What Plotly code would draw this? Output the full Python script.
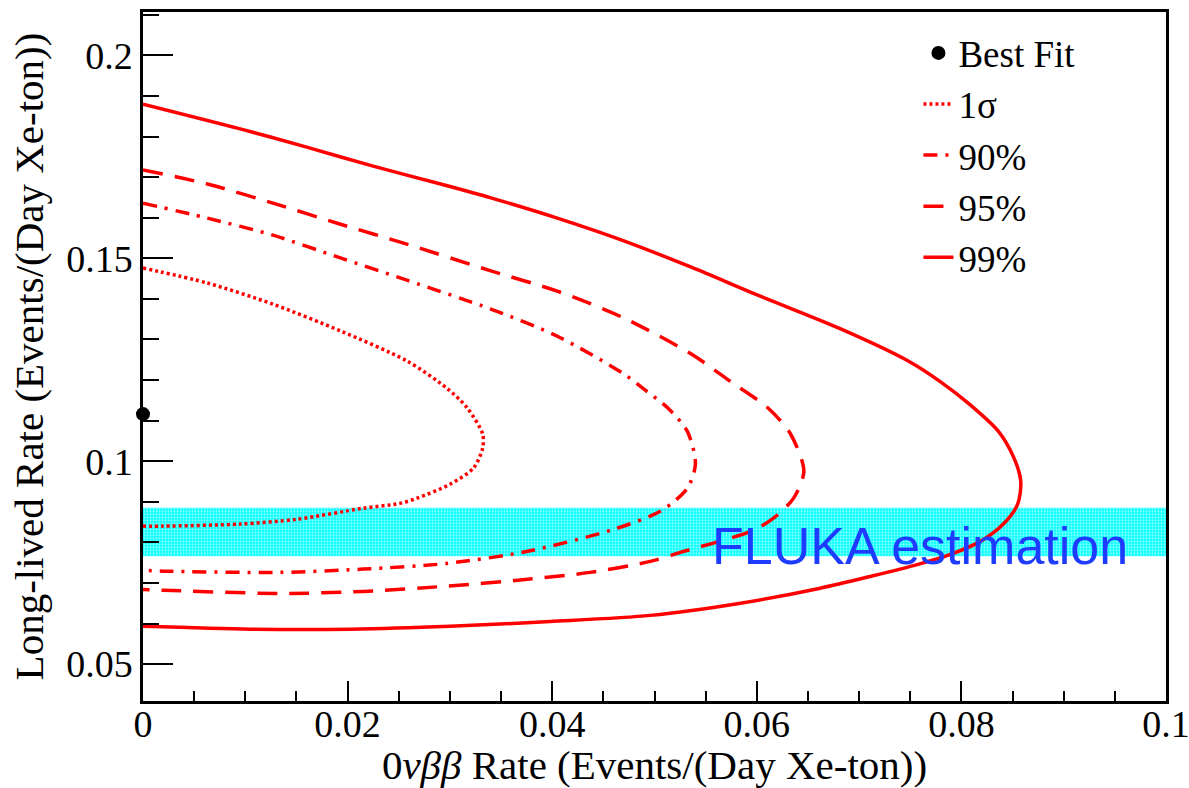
import plotly.graph_objects as go

# ---- data ----
best_fit_x = [0.0]
best_fit_y = [0.1116]

sig1_x = [0.0, 0.0063, 0.0127, 0.0193, 0.0258, 0.0297, 0.0317, 0.0332, 0.0332, 0.0323, 0.0300, 0.0268,
          0.0251, 0.0215, 0.0151, 0.0095, 0.0020, 0.0]
sig1_y = [0.1476, 0.1439, 0.1387, 0.1321, 0.1247, 0.1180, 0.1131, 0.1067, 0.1032, 0.0983, 0.0943, 0.0909,
          0.0896, 0.0884, 0.0857, 0.0845, 0.0840, 0.0840]

cl90_x = [0.0, 0.0063, 0.0127, 0.0193, 0.0258, 0.0340, 0.0405, 0.0470, 0.0491, 0.0513, 0.0532, 0.0540,
          0.0532, 0.0506, 0.0460, 0.0376, 0.0297, 0.0215, 0.0134, 0.0020, 0.0]
cl90_y = [0.1636, 0.1599, 0.1557, 0.1501, 0.1446, 0.1375, 0.1308, 0.1215, 0.1175, 0.1131, 0.1074, 0.0993,
          0.0933, 0.0877, 0.0832, 0.0778, 0.0748, 0.0734, 0.0726, 0.0729, 0.0731]

cl95_x = [0.0, 0.0063, 0.0127, 0.0193, 0.0258, 0.0340, 0.0405, 0.0470, 0.0536, 0.0574, 0.0611, 0.0633,
          0.0646, 0.0636, 0.0616, 0.0594, 0.0529, 0.0496, 0.0437, 0.0376, 0.0297, 0.0215, 0.0134, 0.0020, 0.0]
cl95_y = [0.1718, 0.1683, 0.1636, 0.1584, 0.1535, 0.1469, 0.1419, 0.1353, 0.1264, 0.1197, 0.1131, 0.1067,
          0.0975, 0.0909, 0.0859, 0.0827, 0.0778, 0.0753, 0.0726, 0.0709, 0.0692, 0.0679, 0.0674, 0.0682, 0.0684]

cl99_x = [0.0, 0.0095, 0.0160, 0.0225, 0.0291, 0.0340, 0.0405, 0.0470, 0.0536, 0.0601, 0.0682, 0.0748,
          0.0780, 0.0809, 0.0836, 0.0851, 0.0858, 0.0855, 0.0841, 0.0819, 0.0790, 0.0755, 0.0711, 0.0662,
          0.0584, 0.0496, 0.0398, 0.0300, 0.0203, 0.0105, 0.0]
cl99_y = [0.1880, 0.1819, 0.1774, 0.1727, 0.1683, 0.1649, 0.1599, 0.1543, 0.1478, 0.1409, 0.1326, 0.1247,
          0.1195, 0.1138, 0.1074, 0.1010, 0.0951, 0.0894, 0.0845, 0.0803, 0.0771, 0.0744, 0.0716, 0.0687,
          0.0650, 0.0620, 0.0605, 0.0593, 0.0586, 0.0586, 0.0593]

band_x = [0.0, 0.1]
band_y = [0.0766, 0.0885]
band_label = "FLUKA estimation"

x_range = [0.0, 0.1]
y_range = [0.0409, 0.2107]
x_tickvals = [0.0, 0.02, 0.04, 0.06, 0.08, 0.1]
x_ticktext = ["0", "0.02", "0.04", "0.06", "0.08", "0.1"]
y_tickvals = [0.05, 0.1, 0.15, 0.2]
y_ticktext = ["0.05", "0.1", "0.15", "0.2"]

SERIF = "Liberation Serif"
RED = "#FF0000"

fig = go.Figure()

# FLUKA band
fig.add_trace(go.Scatter(
    x=[band_x[0], band_x[1], band_x[1], band_x[0], band_x[0]],
    y=[band_y[0], band_y[0], band_y[1], band_y[1], band_y[0]],
    mode="lines", fill="toself", line=dict(width=0, color="#00FFFF"),
    fillcolor="#00FFFF",
    fillpattern=dict(shape=".", bgcolor="#00FFFF", fgcolor="#FFFFFF", size=3, solidity=0.45),
    showlegend=False, hoverinfo="skip"))

fig.add_trace(go.Scatter(x=best_fit_x, y=best_fit_y, mode="markers", name="Best Fit",
                         marker=dict(color="black", size=14), cliponaxis=False))
fig.add_trace(go.Scatter(x=sig1_x, y=sig1_y, mode="lines", name="1σ",
                         line=dict(color=RED, width=3.5, dash="3px,3px", shape="spline", smoothing=0.8)))
fig.add_trace(go.Scatter(x=cl90_x, y=cl90_y, mode="lines", name="90%",
                         line=dict(color=RED, width=3.5, dash="14px,8px,3px,8px", shape="spline", smoothing=0.8)))
fig.add_trace(go.Scatter(x=cl95_x, y=cl95_y, mode="lines", name="95%",
                         line=dict(color=RED, width=3.5, dash="20px,12px", shape="spline", smoothing=0.8)))
fig.add_trace(go.Scatter(x=cl99_x, y=cl99_y, mode="lines", name="99%",
                         line=dict(color=RED, width=3.5, shape="spline", smoothing=0.8)))

fig.add_annotation(x=0.0760, y=0.0790, text=band_label, showarrow=False,
                   font=dict(family="Liberation Sans", size=52, color="#1E3CFF"),
                   xanchor="center", yanchor="middle")

axis_common = dict(showgrid=False, zeroline=False, showline=True, linecolor="black", linewidth=2.5,
                   mirror=True, ticks="inside", tickcolor="black", tickwidth=2, automargin=False,
                   tickmode="array", ticklabeloverflow="allow",
                   tickfont=dict(family=SERIF, size=38, color="black"))

fig.update_xaxes(range=x_range, tickvals=x_tickvals, ticktext=x_ticktext, ticklen=20,
                 ticklabelstandoff=-12,
                 minor=dict(tickmode="linear", tick0=0, dtick=0.005, ticklen=10, ticks="inside",
                            tickcolor="black", tickwidth=2),
                 title=dict(text="0<i>νββ</i> Rate (Events/(Day Xe-ton))",
                            font=dict(family=SERIF, size=41, color="black"), standoff=4),
                 **axis_common)
fig.update_yaxes(range=y_range, tickvals=y_tickvals, ticktext=y_ticktext, ticklen=30,
                 minor=dict(tickmode="linear", tick0=0, dtick=0.01, ticklen=16, ticks="inside",
                            tickcolor="black", tickwidth=2),
                 title=dict(text="Long-lived Rate (Events/(Day Xe-ton))",
                            font=dict(family=SERIF, size=41, color="black"), standoff=10),
                 **axis_common)

fig.update_layout(
    width=1189, height=788,
    margin=dict(l=143, r=23, t=12, b=87),
    paper_bgcolor="white", plot_bgcolor="white",
    showlegend=True,
    legend=dict(x=0.758, y=0.985, xanchor="left", yanchor="top",
                font=dict(family=SERIF, size=37, color="black"),
                bgcolor="rgba(0,0,0,0)", borderwidth=0, tracegroupgap=0),
)

fig.write_html("out.html")
